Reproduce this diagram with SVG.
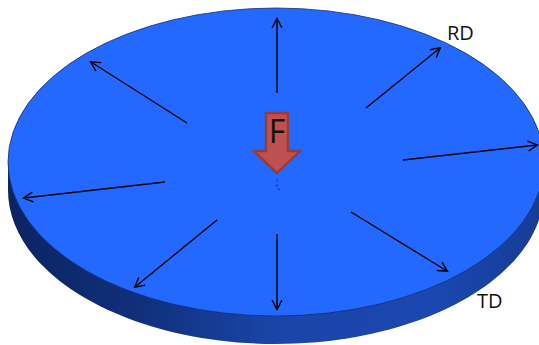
<svg xmlns="http://www.w3.org/2000/svg" width="539" height="345" viewBox="0 0 539 345">
<style>
.a{fill:none;stroke:#000;stroke-width:1.4;marker-end:url(#h)}
.t{font-family:"Open Sans","Liberation Sans",sans-serif;fill:#111}
</style>
<defs>
<marker id="h" markerUnits="userSpaceOnUse" markerWidth="12" markerHeight="12" refX="10" refY="5.5" orient="auto" viewBox="0 0 12 11"><path d="M1 0.5L10.5 5.5L1 10.5" fill="none" stroke="#000" stroke-width="1.4"/></marker>
<linearGradient id="s" x1="0" x2="1" y1="0" y2="0"><stop offset="0" stop-color="#0b2460"/><stop offset=".25" stop-color="#10307c"/><stop offset=".5" stop-color="#1a45a8"/><stop offset=".8" stop-color="#1a47b0"/><stop offset="1" stop-color="#163c94"/></linearGradient>
</defs>
<g id="disc">
<path d="M8 162V190C8 275 128 344 276 344S544 275 544 190V162Z" fill="url(#s)"/>
<ellipse cx="276" cy="162" rx="268" ry="154" fill="#2369ff" stroke="#17306b" stroke-width="0.8"/>
</g>
<g id="connectors">
<path class="a" d="M277 93V19"/>
<path class="a" d="M366 108L440 48"/>
<path class="a" d="M403 160L537 145"/>
<path class="a" d="M351 212L447 271"/>
<path class="a" d="M277 234V309"/>
<path class="a" d="M217 220L135 287"/>
<path class="a" d="M165 182L24 198"/>
<path class="a" d="M187 123L91 62"/>
<path d="M277 179V188L280 190" fill="none" stroke="#1030e0" stroke-width="1.1" stroke-dasharray="3 2"/>
</g>
<g id="force">
<path d="M266 113H288V151H300L277 173L254 151H266Z" fill="#c0504d" stroke="#953c39" stroke-width="2.4"/>
<text class="t" x="277" y="143" font-size="32" text-anchor="middle">F</text>
</g>
<g id="rd"><text class="t" x="447" y="40" font-size="20">RD</text></g>
<g id="td"><text class="t" x="477" y="308" font-size="20">TD</text></g>
</svg>
